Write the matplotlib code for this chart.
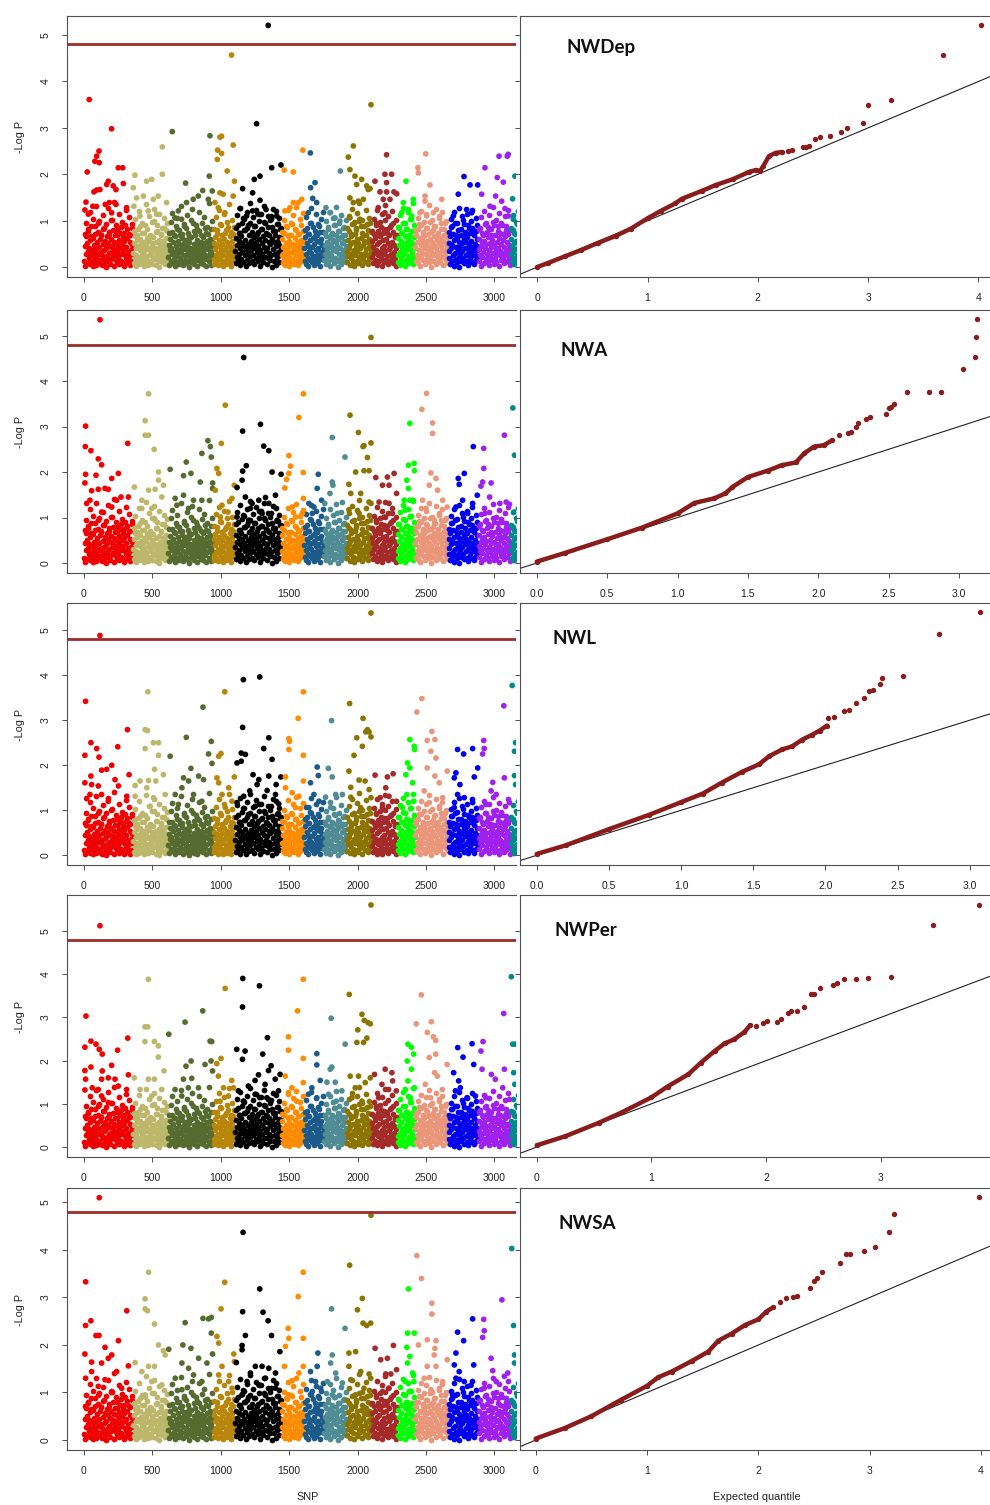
import numpy as np
import matplotlib
matplotlib.use("Agg")
import matplotlib.pyplot as plt

# ---------------- data ----------------
TRAITS = ["NWDep", "NWA", "NWL", "NWPer", "NWSA"]
THRESHOLD = 4.8

# chromosome blocks (SNP index where each block starts) and colours
CHR_STARTS = [0, 358, 616, 945, 1104, 1445, 1608, 1754, 1920, 2103, 2290, 2420, 2663, 2882, 3118]
CHR_END = 3176
CHR_COLORS = ["#f00000", "#bdb76b", "#556b2f", "#b8860b", "#000000", "#ff8c00", "#1c5a8a",
              "#4f8c94", "#8b7500", "#a52a2a", "#00ff00", "#e9967a", "#0000ee", "#a020f0", "#008b8b"]

# dense low -log P band of each block (values in hundredths)
BULK_1 = [12, 45, 3, 67, 28, 51, 9, 34, 78, 19, 42, 6, 58, 25, 88, 14, 37, 2, 63, 31,
          47, 11, 72, 22, 5, 39, 55, 17, 94, 29, 8, 44, 61, 15, 33, 70, 4, 26, 49, 83,
          20, 36, 10, 57, 41, 1, 66, 24, 13, 52, 30, 76, 7, 46, 18, 60, 35, 102, 23, 43,
          3, 54, 27, 68, 16, 38, 9, 80, 32, 48, 21, 59, 6, 40, 74, 14, 29, 50, 11, 65,
          37, 2, 56, 26, 91, 19, 44, 8, 62, 33, 15, 71, 24, 4, 53, 36, 12, 47, 85, 28]
BULK_2 = [31, 8, 52, 19, 66, 40, 3, 27, 58, 14, 45, 82, 22, 6, 37, 61, 11, 49, 29, 73,
          17, 43, 2, 55, 34, 90, 24, 9, 48, 63, 15, 38, 5, 57, 26, 70, 41, 13, 30, 51,
          7, 46, 21, 64, 35, 99, 18, 42, 4, 54, 28, 77, 12, 39, 59, 23, 1, 47, 33, 68,
          16, 44, 10, 56, 25, 85, 36, 6, 50, 20, 62, 32, 14, 43, 27]
BULK_3 = [22, 47, 5, 36, 60, 13, 41, 28, 75, 9, 53, 17, 32, 66, 2, 45, 24, 81, 38, 11,
          57, 30, 7, 49, 19, 70, 35, 14, 44, 62, 4, 27, 52, 89, 16, 39, 8, 58, 25, 46,
          12, 73, 33, 1, 55, 21, 42, 64, 10, 37, 29, 95, 18, 50, 6, 43, 26, 68, 15, 34,
          59, 3, 48, 23, 78, 40, 13, 31, 54, 9, 45, 20, 65, 36, 7, 51, 28, 84, 17, 41,
          2, 57, 24, 71, 38, 12, 47, 30, 61, 5, 33, 19, 53, 26, 44]
BULK_4 = [18, 52, 7, 39, 64, 25, 12, 47, 80, 31, 4, 58, 21, 43, 93, 15, 35, 69, 9, 50,
          27, 2, 61, 37, 14, 74, 44, 23, 55, 6, 33, 86, 19, 48, 11, 66, 29, 40, 3, 57,
          24, 71, 36, 16, 46, 30]
BULK_5 = [35, 8, 62, 21, 47, 90, 14, 56, 29, 73, 4, 41, 67, 18, 52, 33, 106, 11, 45, 79,
          26, 59, 2, 38, 84, 16, 50, 31, 69, 9, 43, 95, 23, 57, 36, 12, 76, 48, 27, 64,
          6, 40, 88, 19, 54, 32, 71, 13, 46, 115, 24, 60, 3, 37, 81, 17, 51, 29, 66, 10,
          44, 98, 22, 58, 34, 74, 7, 42, 86, 20, 55, 30, 68, 15, 49, 109, 25, 61, 1, 39,
          78, 14, 53, 28, 70, 5, 45, 92, 21, 57, 33, 65, 11, 47, 83, 26, 62, 38]
BULK_6 = [27, 61, 9, 44, 18, 73, 35, 5, 52, 23, 86, 14, 40, 66, 30, 2, 57, 20, 47, 11,
          69, 33, 92, 16, 50, 7, 38, 63, 25, 80, 12, 45, 28, 55, 4, 36, 71, 19, 48, 10,
          59, 31, 15, 42, 77, 24, 53]
BULK_7 = [40, 13, 65, 28, 7, 52, 84, 20, 46, 3, 71, 35, 16, 58, 30, 95, 11, 43, 62, 24,
          5, 49, 78, 18, 37, 9, 56, 27, 68, 14, 41, 88, 22, 54, 2, 33, 60, 17, 47, 75,
          26, 38]
BULK_8 = [15, 48, 29, 67, 6, 39, 55, 22, 81, 11, 44, 31, 62, 3, 50, 26, 73, 17, 36, 58,
          9, 42, 90, 20, 53, 34, 69, 13, 46, 1, 60, 28, 77, 18, 40, 64, 7, 51, 24, 85,
          32, 14, 57, 37, 70, 21, 45, 10]
BULK_9 = [33, 10, 58, 24, 77, 41, 5, 49, 19, 66, 30, 92, 14, 53, 37, 2, 71, 27, 45, 84,
          12, 60, 35, 8, 51, 22, 99, 40, 16, 63, 29, 74, 4, 47, 20, 56, 88, 31, 11, 68,
          38, 25, 54, 7, 79, 43, 17, 61, 28, 95, 36, 48]
BULK_10 = [21, 56, 8, 43, 71, 30, 15, 62, 37, 94, 4, 49, 25, 78, 12, 53, 33, 66, 19, 86,
           40, 2, 58, 28, 74, 10, 46, 35, 101, 17, 60, 24, 82, 6, 51, 39, 68, 14, 44, 29,
           90, 22, 55, 9, 76, 32, 48, 18, 64, 3, 41, 27, 70]
BULK_11 = [26, 63, 11, 48, 85, 32, 5, 57, 20, 74, 39, 14, 96, 45, 28, 67, 2, 52, 36, 81,
           17, 60, 9, 43, 70, 24, 104, 38, 13, 55, 31, 78, 7, 50, 22, 65, 41]
BULK_12 = [44, 12, 69, 27, 53, 8, 81, 36, 19, 62, 3, 47, 91, 24, 58, 31, 75, 15, 40, 66,
           6, 50, 28, 85, 17, 56, 34, 72, 10, 45, 98, 22, 60, 38, 1, 54, 30, 79, 14, 48,
           67, 25, 89, 41, 7, 59, 33, 74, 18, 52, 106, 29, 63, 11, 46, 83, 37, 21, 57, 4,
           70, 35, 94, 26, 49, 16, 65, 42, 9, 55]
BULK_13 = [19, 52, 34, 7, 66, 41, 87, 13, 48, 25, 72, 3, 58, 30, 95, 17, 44, 62, 10, 37,
           80, 22, 55, 1, 46, 28, 69, 14, 51, 35, 102, 20, 60, 8, 42, 76, 26, 53, 12, 65,
           31, 90, 5, 47, 39, 73, 18, 57, 24, 84, 11, 43, 33, 68, 6, 50, 27, 78, 15, 45,
           36, 61, 21]
BULK_14 = [38, 14, 61, 27, 85, 46, 3, 53, 22, 70, 33, 9, 57, 41, 93, 18, 49, 29, 76, 12,
           64, 36, 5, 51, 24, 82, 43, 16, 59, 31, 98, 7, 47, 20, 68, 39, 11, 55, 28, 88,
           42, 2, 62, 25, 73, 35, 15, 50, 30, 90, 19, 58, 44, 8, 66, 26, 79, 37, 13, 54,
           32, 71, 21, 48, 4, 40]
BULK_15 = [28, 61, 12, 45, 80, 33, 6, 52, 20, 71, 39, 15, 57, 25, 93, 42, 9]
BULK = [BULK_1, BULK_2, BULK_3, BULK_4, BULK_5, BULK_6, BULK_7, BULK_8, BULK_9, BULK_10,
        BULK_11, BULK_12, BULK_13, BULK_14, BULK_15]

# scattered middle band (about 0.7 - 1.4) of each block, in hundredths
MID_1 = [72, 95, 81, 118, 66, 104, 88, 131, 75, 99, 69, 112, 84, 93, 127, 71, 101, 79, 140, 90,
         68, 115, 86, 97, 74, 123, 82, 108, 70, 92]
MID_2 = [78, 103, 69, 121, 88, 94, 73, 135, 82, 110, 67, 98, 126, 76, 91, 114, 71, 85, 105, 80, 96]
MID_3 = [74, 98, 117, 68, 89, 106, 79, 132, 71, 93, 84, 112, 66, 101, 125, 77, 90, 83, 119, 70,
         96, 108, 73, 87, 138, 81, 99]
MID_4 = [82, 107, 71, 124, 90, 68, 115, 79, 98, 136, 75, 102, 86]
MID_5 = [85, 112, 73, 128, 96, 104, 79, 118, 91, 137, 70, 108, 88, 123, 76, 99, 115, 82, 131, 94,
         72, 110, 101, 87, 126, 78, 120, 93, 106, 84]
MID_6 = [76, 101, 88, 122, 69, 95, 113, 81, 130, 72, 104, 90, 117]
MID_7 = [80, 108, 71, 96, 127, 86, 67, 114, 92, 75, 103, 119]
MID_8 = [73, 99, 86, 118, 68, 105, 91, 130, 78, 95, 112, 70, 87, 101]
MID_9 = [84, 110, 72, 126, 95, 79, 117, 139, 88, 101, 69, 122, 92, 106, 76]
MID_10 = [77, 104, 91, 124, 70, 98, 115, 83, 134, 73, 109, 87, 120, 95, 68, 102]
MID_11 = [86, 112, 74, 128, 95, 81, 119, 70, 104, 137, 90]
MID_12 = [79, 106, 92, 121, 71, 98, 115, 84, 133, 75, 102, 88, 126, 69, 110, 94, 118, 82, 100, 73]
MID_13 = [75, 103, 88, 119, 70, 96, 128, 81, 109, 92, 67, 114, 85, 99, 124, 78, 106, 90]
MID_14 = [82, 107, 73, 120, 94, 86, 113, 69, 130, 90, 101, 77, 117, 96, 71, 109, 88, 124, 80]
MID_15 = [84, 112, 73, 98, 121]
MID = [MID_1, MID_2, MID_3, MID_4, MID_5, MID_6, MID_7, MID_8, MID_9, MID_10,
       MID_11, MID_12, MID_13, MID_14, MID_15]

# elevated SNPs per trait: (SNP index, -log P)
PEAKS_NWDEP = [
    (39, 3.61), (24, 2.05), (15, 1.40), (110, 2.50), (93, 2.39), (80, 2.28), (112, 2.25), (202, 2.98),
    (251, 2.14), (283, 2.14), (178, 1.85), (166, 1.78), (93, 1.66), (117, 1.67), (73, 1.62), (214, 1.75),
    (234, 1.67), (288, 1.80), (7, 1.23), (65, 1.31), (156, 1.35), (185, 1.39), (234, 1.35), (312, 1.28),
    (32, 1.14), (202, 1.17),
    (373, 1.98), (361, 1.71), (458, 1.85), (495, 1.89), (573, 2.00), (573, 2.59), (385, 1.49), (434, 1.53),
    (507, 1.46), (543, 1.53), (604, 1.39), (365, 1.31), (470, 1.21), (409, 1.10), (531, 1.14),
    (646, 2.92), (743, 1.81), (750, 1.39), (799, 1.46), (836, 1.53), (868, 1.65), (690, 1.21), (665, 1.06),
    (714, 1.03), (909, 1.46), (916, 1.96), (921, 2.83), (938, 1.64),
    (1079, 4.57), (1091, 2.63), (994, 2.80), (1006, 2.82), (977, 2.52), (1006, 2.45), (975, 2.32),
    (1047, 2.07), (1100, 1.85), (994, 1.60), (1018, 1.57), (957, 1.39), (982, 1.28), (1030, 1.17), (1091, 1.53),
    (1347, 5.21), (1262, 3.09), (1245, 1.89), (1287, 1.96), (1160, 1.69), (1233, 1.60), (1372, 2.14),
    (1440, 2.20), (1287, 1.44), (1141, 1.26), (1233, 1.21), (1331, 1.24), (1272, 1.14), (1409, 1.10),
    (1189, 1.10), (1372, 1.03),
    (1600, 2.52), (1464, 2.09), (1530, 2.05), (1469, 1.21), (1506, 1.28), (1530, 1.39), (1567, 1.39), (1592, 1.46),
    (1655, 2.46), (1689, 1.82), (1657, 1.71), (1672, 1.48), (1640, 1.17), (1701, 1.39),
    (1874, 2.07), (1769, 1.28), (1798, 1.17), (1835, 1.06), (1871, 0.99),
    (2098, 3.50), (1969, 2.61), (1932, 2.37), (1944, 2.10), (1981, 1.96), (2030, 1.89), (1993, 1.78),
    (2066, 1.75), (1944, 1.49), (1969, 1.39), (2005, 1.42), (2042, 1.46), (2078, 1.67), (2091, 1.69),
    (1944, 1.06), (2017, 1.03), (1981, 0.96),
    (2212, 2.42), (2127, 1.85), (2200, 2.00), (2249, 2.00), (2212, 1.82), (2164, 1.62), (2212, 1.62),
    (2266, 1.62), (2286, 1.58), (2188, 1.46), (2151, 1.28), (2237, 1.46), (2200, 1.17),
    (2354, 1.85), (2334, 1.39), (2407, 1.46), (2371, 1.24), (2322, 1.17), (2395, 1.10),
    (2498, 2.44), (2441, 2.14), (2444, 2.03), (2529, 1.77), (2493, 1.53), (2493, 1.42), (2615, 1.46),
    (2456, 1.17), (2554, 1.17), (2505, 1.10),
    (2778, 1.95), (2736, 1.57), (2822, 1.77), (2878, 1.77), (2700, 1.10), (2797, 1.24), (2834, 1.17),
    (2931, 2.14), (3034, 2.39), (3094, 2.39), (3101, 2.43), (3021, 1.93), (3065, 1.83), (2907, 1.57),
    (3009, 1.53), (3053, 1.42), (2968, 1.31), (3077, 1.26), (3101, 1.10),
    (3150, 1.96), (3133, 1.47), (3138, 1.03)]

PEAKS_NWA = [
    (117, 5.35), (12, 3.01), (10, 2.56), (51, 2.47), (105, 2.29), (129, 2.16), (12, 1.95), (88, 1.93),
    (203, 1.86), (252, 1.97), (320, 2.63), (7, 1.76), (56, 1.59), (105, 1.62), (154, 1.64), (178, 1.62),
    (44, 1.38), (239, 1.38), (271, 1.45), (325, 1.45), (20, 1.31), (203, 1.23), (129, 1.12),
    (472, 3.72), (447, 3.13), (447, 2.81), (472, 2.81), (513, 2.50), (545, 2.00), (369, 1.67), (472, 1.60),
    (520, 1.62), (545, 1.82), (581, 1.71), (569, 1.45), (423, 1.38), (496, 1.20), (423, 1.20), (520, 0.94),
    (630, 2.06), (748, 2.22), (728, 1.92), (782, 1.97), (850, 1.78), (862, 2.41), (906, 2.69), (924, 2.56),
    (931, 2.33), (941, 1.76), (940, 1.64), (728, 1.49), (801, 1.38), (667, 1.42), (862, 1.38), (679, 1.27),
    (765, 1.20),
    (1033, 3.47), (1004, 2.63), (972, 2.08), (985, 1.97), (960, 1.60), (1099, 1.71), (1082, 1.42),
    (1009, 1.27), (1053, 1.12), (997, 1.01),
    (1168, 4.52), (1160, 2.90), (1290, 3.05), (1314, 2.57), (1351, 2.47), (1187, 2.14), (1160, 2.02),
    (1156, 1.82), (1375, 2.00), (1441, 1.95), (1119, 1.66), (1180, 1.45), (1400, 1.49), (1327, 1.44),
    (1278, 1.38), (1229, 1.31), (1217, 1.20), (1119, 1.01), (1351, 1.31), (1302, 1.09), (1205, 0.94),
    (1412, 0.94),
    (1604, 3.72), (1571, 3.20), (1498, 2.36), (1510, 2.13), (1498, 1.97), (1481, 1.84), (1468, 1.65),
    (1603, 1.99), (1604, 1.42), (1522, 1.23), (1547, 1.01), (1596, 1.09),
    (1713, 1.95), (1705, 1.64), (1644, 1.31), (1681, 1.23), (1737, 1.38), (1669, 1.09),
    (1815, 2.76), (1908, 2.33), (1815, 1.78), (1820, 1.71), (1798, 1.53), (1889, 1.33), (1760, 1.31),
    (1852, 1.09),
    (2098, 4.96), (1945, 3.25), (2006, 2.87), (2047, 2.58), (2040, 2.56), (2072, 2.32), (2098, 2.64),
    (1986, 2.00), (2047, 2.03), (2084, 2.03), (1937, 1.73), (1950, 1.53), (2023, 1.53), (2084, 1.34),
    (2098, 1.31), (1937, 1.17), (2011, 1.09),
    (2133, 1.88), (2182, 1.71), (2218, 1.89), (2267, 1.97), (2230, 1.71), (2285, 1.53), (2157, 1.34),
    (2230, 1.31), (2255, 1.09), (2194, 1.01),
    (2382, 3.07), (2372, 2.15), (2414, 2.19), (2416, 2.03), (2360, 1.82), (2372, 1.64), (2341, 1.38),
    (2382, 1.38), (2405, 1.38), (2348, 1.16), (2385, 1.01),
    (2504, 3.73), (2470, 3.38), (2548, 3.08), (2548, 2.85), (2536, 1.98), (2573, 1.86), (2524, 1.71),
    (2585, 1.60), (2475, 1.38), (2500, 1.20), (2622, 1.38), (2655, 1.23), (2560, 0.94),
    (2846, 2.56), (2780, 1.97), (2736, 1.86), (2743, 1.73), (2768, 1.38), (2719, 1.23), (2841, 1.31),
    (2805, 1.09), (2875, 1.49),
    (2922, 2.52), (2922, 2.08), (2902, 1.69), (2914, 1.78), (2976, 1.76), (3073, 2.81), (3110, 1.29),
    (3086, 1.34), (2965, 1.45), (3040, 1.31), (2931, 1.09),
    (3135, 3.41), (3147, 2.37), (3147, 1.12)]

PEAKS_NWL = [
    (117, 4.88), (12, 3.42), (318, 2.79), (51, 2.50), (93, 2.37), (110, 2.18), (7, 2.22), (247, 2.41),
    (129, 1.89), (166, 1.91), (203, 2.00), (51, 1.76), (330, 1.79), (7, 1.61), (56, 1.57), (105, 1.54),
    (227, 1.68), (252, 1.54), (44, 1.35), (129, 1.35), (313, 1.31), (178, 1.20), (20, 1.26),
    (467, 3.63), (447, 2.79), (464, 2.77), (447, 2.37), (508, 2.50), (545, 2.50), (545, 2.22), (516, 1.91),
    (581, 1.79), (410, 1.65), (472, 1.66), (525, 1.65), (374, 1.55), (459, 1.50), (374, 1.31), (508, 1.28),
    (594, 1.35), (484, 1.09),
    (630, 2.20), (748, 2.62), (782, 1.93), (728, 1.72), (765, 1.65), (838, 1.76), (874, 1.68), (870, 3.29),
    (931, 2.53), (911, 2.25), (936, 2.04), (667, 1.35), (716, 1.50), (801, 1.35), (862, 1.20), (691, 1.13),
    (1029, 3.63), (1002, 2.26), (985, 2.20), (972, 1.72), (985, 1.61), (1099, 1.74), (1058, 1.50),
    (1009, 1.35), (1082, 1.20), (1033, 1.06),
    (1165, 3.90), (1285, 3.96), (1160, 2.84), (1150, 2.27), (1180, 2.24), (1150, 2.09), (1119, 2.05),
    (1351, 2.61), (1314, 2.37), (1375, 2.13), (1236, 1.79), (1278, 1.68), (1266, 1.57), (1351, 1.76),
    (1439, 1.74), (1405, 1.57), (1339, 1.44), (1212, 1.43), (1168, 1.31), (1400, 1.35), (1119, 1.17),
    (1253, 1.09), (1424, 1.14),
    (1604, 3.63), (1566, 3.04), (1498, 2.59), (1503, 2.53), (1498, 2.35), (1604, 2.22), (1473, 1.74),
    (1473, 1.50), (1604, 1.65), (1522, 1.39), (1571, 1.31), (1547, 1.06),
    (1705, 1.96), (1713, 1.77), (1656, 1.61), (1681, 1.35), (1718, 1.20), (1644, 1.06),
    (1810, 2.99), (1786, 1.93), (1815, 1.74), (1840, 1.35), (1766, 1.29), (1889, 1.35), (1803, 1.06),
    (2098, 5.38), (1942, 3.37), (2040, 3.04), (1994, 2.61), (2035, 2.42), (1974, 2.22), (2060, 2.74),
    (2084, 2.74), (2072, 2.79), (2098, 2.63), (1937, 1.87), (1950, 1.51), (2011, 1.67), (2055, 1.65),
    (2084, 1.46), (2098, 1.28), (1950, 1.29), (2023, 1.06),
    (2128, 1.78), (2218, 1.74), (2260, 1.81), (2206, 1.50), (2165, 1.28), (2230, 1.31), (2285, 1.20),
    (2182, 1.06),
    (2382, 2.57), (2414, 2.42), (2416, 2.35), (2365, 2.05), (2382, 1.94), (2353, 1.79), (2402, 1.61),
    (2360, 1.35), (2410, 1.20), (2328, 1.06),
    (2470, 3.48), (2433, 3.18), (2509, 2.55), (2543, 2.75), (2565, 2.57), (2573, 2.16), (2536, 2.31),
    (2509, 1.94), (2565, 1.76), (2597, 1.61), (2487, 1.43), (2655, 1.87), (2622, 1.28), (2524, 1.17),
    (2731, 2.35), (2775, 2.25), (2841, 2.37), (2853, 1.74), (2878, 1.94), (2719, 1.83), (2707, 1.72),
    (2748, 1.57), (2731, 1.35), (2780, 1.28), (2841, 1.17), (2707, 1.06),
    (2922, 2.55), (2914, 2.25), (2926, 2.37), (3069, 3.32), (3073, 1.72), (2988, 1.62), (2976, 1.43),
    (3013, 1.35), (3110, 1.17), (2938, 1.13),
    (3130, 3.77), (3147, 2.31), (3155, 2.50), (3147, 1.77), (3155, 1.57)]

PEAKS_NWPER = [
    (117, 5.12), (15, 3.03), (51, 2.45), (88, 2.38), (112, 2.26), (134, 2.15), (7, 2.31), (246, 2.24),
    (320, 2.52), (202, 1.89), (134, 1.76), (51, 1.85), (325, 1.67), (7, 1.77), (12, 1.57), (129, 1.57),
    (178, 1.60), (227, 1.57), (251, 1.41), (61, 1.37), (105, 1.33), (312, 1.33), (7, 1.32), (129, 1.18),
    (178, 1.03),
    (471, 3.88), (446, 2.78), (466, 2.78), (446, 2.44), (515, 2.44), (544, 2.34), (544, 2.08), (585, 1.76),
    (368, 1.60), (471, 1.57), (515, 1.57), (410, 1.33), (568, 1.33), (495, 1.18),
    (620, 2.61), (739, 2.89), (783, 1.99), (746, 1.87), (727, 1.57), (788, 1.59), (868, 3.15), (922, 2.45),
    (934, 2.44), (929, 1.99), (885, 1.91), (940, 1.76), (666, 1.33), (763, 1.37), (837, 1.37), (715, 1.18),
    (1032, 3.67), (1002, 2.05), (971, 1.93), (983, 1.64), (1080, 1.54), (1020, 1.37), (1093, 1.37),
    (1056, 1.18), (995, 1.06),
    (1161, 3.90), (1159, 3.24), (1283, 3.73), (1178, 2.22), (1159, 2.03), (1117, 2.26), (1341, 2.53),
    (1307, 2.15), (1368, 1.88), (1434, 1.68), (1349, 1.77), (1276, 1.67), (1251, 1.54), (1398, 1.57),
    (1202, 1.41), (1324, 1.45), (1129, 1.30), (1251, 1.22), (1422, 1.30), (1337, 1.14), (1166, 1.06),
    (1603, 3.88), (1561, 3.15), (1495, 2.55), (1495, 2.24), (1603, 2.05), (1471, 1.64), (1603, 1.49),
    (1520, 1.37), (1495, 1.26), (1556, 1.06),
    (1702, 2.16), (1702, 1.90), (1727, 1.54), (1666, 1.37), (1641, 1.22), (1702, 1.14),
    (1807, 2.98), (1812, 1.85), (1800, 1.80), (1837, 1.50), (1776, 1.50), (1885, 1.30), (1788, 1.22),
    (1844, 1.06), (1910, 2.38),
    (2098, 5.60), (1939, 3.53), (2032, 3.07), (2049, 2.93), (2076, 2.88), (2093, 2.85), (2002, 2.71),
    (2044, 2.42), (1995, 2.42), (2068, 2.52), (1946, 1.64), (2007, 1.64), (2056, 1.49), (2093, 1.60),
    (1983, 1.37), (1959, 1.14), (2032, 1.06),
    (2202, 1.80), (2251, 1.72), (2124, 1.68), (2178, 1.45), (2227, 1.33), (2256, 1.53), (2283, 1.30),
    (2154, 1.14),
    (2368, 2.38), (2393, 2.31), (2410, 2.15), (2363, 1.99), (2393, 1.80), (2368, 1.53), (2349, 1.33),
    (2415, 1.37), (2385, 1.14),
    (2466, 3.52), (2429, 2.85), (2510, 2.65), (2539, 2.90), (2554, 2.55), (2571, 2.47), (2524, 2.07),
    (2571, 2.15), (2563, 1.72), (2583, 1.64), (2495, 1.45), (2655, 1.91), (2620, 1.33), (2534, 1.14),
    (2732, 2.30), (2771, 2.08), (2837, 2.39), (2849, 1.91), (2702, 1.72), (2739, 1.53), (2751, 1.37),
    (2715, 1.30), (2800, 1.14), (2861, 1.18),
    (2917, 2.44), (2902, 2.22), (2910, 1.80), (2978, 1.68), (3007, 1.57), (3073, 1.80), (3068, 3.09),
    (2939, 1.14), (3061, 1.37), (3110, 1.10),
    (3124, 3.94), (3134, 2.38), (3154, 2.38), (3141, 1.72), (3149, 1.45)]

PEAKS_NWSA = [
    (112, 5.10), (12, 3.33), (12, 2.41), (51, 2.51), (88, 2.20), (110, 2.20), (154, 1.95), (252, 2.09),
    (313, 2.72), (203, 1.79), (7, 1.81), (56, 1.64), (129, 1.62), (178, 1.72), (239, 1.44), (56, 1.44),
    (154, 1.27), (325, 1.56), (12, 1.30), (105, 1.13), (276, 1.09), (203, 1.02),
    (472, 3.53), (447, 2.97), (447, 2.76), (464, 2.72), (516, 2.44), (545, 2.00), (581, 1.88), (374, 1.63),
    (472, 1.55), (516, 1.55), (594, 1.79), (423, 1.44), (496, 1.23), (569, 1.16), (447, 0.95),
    (620, 1.91), (740, 2.47), (723, 2.00), (782, 1.93), (716, 1.62), (765, 1.51), (838, 1.72), (870, 2.56),
    (911, 2.55), (931, 2.58), (931, 2.25), (940, 1.81), (899, 1.62), (667, 1.30), (801, 1.37), (862, 1.23),
    (716, 1.06),
    (1029, 3.32), (1002, 2.76), (972, 2.18), (985, 2.04), (1009, 1.55), (1095, 1.81), (1100, 1.65),
    (1058, 1.23), (985, 1.37), (1082, 1.09),
    (1163, 4.37), (1160, 2.70), (1285, 3.18), (1309, 2.69), (1346, 2.51), (1371, 2.20), (1180, 2.20),
    (1156, 1.99), (1156, 1.90), (1432, 1.86), (1114, 1.63), (1253, 1.55), (1302, 1.55), (1351, 1.51),
    (1400, 1.41), (1217, 1.41), (1327, 1.30), (1192, 1.23), (1278, 1.16), (1400, 1.09), (1156, 0.95),
    (1603, 3.53), (1566, 3.02), (1603, 2.14), (1493, 2.35), (1498, 2.14), (1473, 1.97), (1466, 1.55),
    (1603, 1.55), (1522, 1.25), (1571, 1.41), (1498, 0.95),
    (1710, 1.83), (1705, 1.55), (1656, 1.44), (1693, 1.23), (1730, 1.09), (1669, 1.02),
    (1810, 2.76), (1815, 1.79), (1803, 1.62), (1908, 2.35), (1840, 1.41), (1779, 1.23), (1889, 1.20),
    (1815, 0.95),
    (2098, 4.73), (1942, 3.68), (1999, 2.74), (2035, 2.98), (2040, 2.46), (2067, 2.41), (2096, 2.46),
    (1937, 1.83), (1937, 1.55), (1986, 1.86), (2023, 1.44), (2084, 1.39), (2096, 1.30), (1950, 1.27),
    (2047, 1.09), (1986, 0.95),
    (2128, 1.93), (2169, 1.69), (2218, 1.72), (2262, 1.99), (2206, 1.39), (2243, 1.39), (2285, 1.48),
    (2230, 1.09), (2182, 1.02),
    (2372, 3.18), (2365, 2.25), (2415, 2.25), (2360, 1.95), (2382, 1.76), (2365, 1.62), (2402, 1.41),
    (2350, 1.23), (2412, 1.23), (2377, 1.02),
    (2433, 3.88), (2467, 3.40), (2543, 2.88), (2543, 2.65), (2509, 2.11), (2573, 2.09), (2445, 2.00),
    (2565, 1.93), (2560, 1.79), (2509, 1.55), (2573, 1.55), (2655, 1.69), (2487, 1.30), (2622, 1.23),
    (2536, 1.06),
    (2731, 2.27), (2775, 2.09), (2841, 2.55), (2849, 1.58), (2719, 1.83), (2707, 1.58), (2743, 1.44),
    (2719, 1.30), (2780, 1.23), (2829, 1.15), (2694, 0.95),
    (2922, 2.54), (2926, 2.30), (2914, 2.16), (2976, 1.72), (2988, 1.46), (3055, 2.95), (3073, 1.34),
    (3098, 1.41), (2926, 1.09), (3013, 1.23), (3110, 1.02),
    (3127, 4.03), (3140, 2.41), (3147, 1.79), (3147, 1.62)]

PEAKS = [PEAKS_NWDEP, PEAKS_NWA, PEAKS_NWL, PEAKS_NWPER, PEAKS_NWSA]

# QQ plots: (expected, observed); dense part of the curve and sparse upper tail
QQ_DENSE_NWDEP = [(0, 0), (0.10, 0.09), (0.25, 0.23), (0.40, 0.37), (0.55, 0.52), (0.71, 0.67), (0.85, 0.83),
                  (1.00, 1.05), (1.12, 1.21), (1.25, 1.37), (1.31, 1.47), (1.49, 1.64), (1.62, 1.77),
                  (1.77, 1.89), (1.92, 2.05), (1.98, 2.09), (2.02, 2.07), (2.05, 2.18), (2.10, 2.39),
                  (2.16, 2.46), (2.22, 2.48)]
QQ_TAIL_NWDEP = [(2.27, 2.51), (2.31, 2.52), (2.41, 2.59), (2.44, 2.58), (2.46, 2.61), (2.52, 2.77),
                 (2.56, 2.81), (2.65, 2.82), (2.75, 2.91), (2.81, 3.00), (2.95, 3.10), (3.00, 3.50),
                 (3.21, 3.61), (3.68, 4.57), (4.02, 5.21)]
QQ_DENSE_NWA = [(0, 0.03), (0.20, 0.22), (0.50, 0.52), (0.75, 0.78), (1.00, 1.09), (1.12, 1.32),
                (1.26, 1.42), (1.34, 1.53), (1.39, 1.67), (1.50, 1.89), (1.64, 2.03), (1.74, 2.15),
                (1.84, 2.21), (1.90, 2.41), (1.97, 2.56), (2.04, 2.59), (2.10, 2.70)]
QQ_TAIL_NWA = [(2.15, 2.81), (2.21, 2.85), (2.23, 2.87), (2.27, 3.00), (2.28, 3.08), (2.34, 3.16),
               (2.37, 3.20), (2.48, 3.27), (2.50, 3.40), (2.52, 3.44), (2.54, 3.49), (2.63, 3.75),
               (2.79, 3.75), (2.87, 3.75), (3.03, 4.27), (3.11, 4.54), (3.12, 4.96), (3.13, 5.36)]
QQ_DENSE_NWL = [(0, 0.03), (0.20, 0.22), (0.50, 0.58), (0.78, 0.90), (1.00, 1.18), (1.15, 1.37),
                (1.28, 1.61), (1.42, 1.85), (1.54, 2.02), (1.61, 2.20), (1.70, 2.35), (1.77, 2.42),
                (1.84, 2.57), (1.91, 2.68), (1.96, 2.77), (2.01, 2.88)]
QQ_TAIL_NWL = [(2.02, 3.04), (2.06, 3.07), (2.13, 3.21), (2.16, 3.23), (2.21, 3.38), (2.27, 3.49),
               (2.30, 3.64), (2.33, 3.68), (2.38, 3.80), (2.39, 3.94), (2.54, 3.99), (2.79, 4.91), (3.07, 5.40)]
QQ_DENSE_NWPER = [(0, 0.04), (0.25, 0.25), (0.54, 0.56), (0.74, 0.80), (1.00, 1.15), (1.14, 1.40),
                  (1.32, 1.68), (1.43, 1.95), (1.55, 2.22), (1.64, 2.40), (1.72, 2.49), (1.81, 2.66),
                  (1.86, 2.82)]
QQ_TAIL_NWPER = [(1.91, 2.80), (1.97, 2.88), (2.01, 2.92), (2.09, 2.89), (2.13, 2.96), (2.19, 3.11),
                 (2.22, 3.15), (2.27, 3.15), (2.33, 3.25), (2.39, 3.53), (2.42, 3.55), (2.47, 3.69),
                 (2.58, 3.74), (2.62, 3.79), (2.68, 3.88), (2.78, 3.88), (2.89, 3.92), (3.09, 3.94),
                 (3.45, 5.13), (3.85, 5.60)]
QQ_DENSE_NWSA = [(0, 0.03), (0.26, 0.25), (0.50, 0.50), (0.77, 0.85), (1.00, 1.14), (1.10, 1.32),
                 (1.22, 1.44), (1.40, 1.66), (1.55, 1.86), (1.64, 2.09), (1.76, 2.24), (1.88, 2.42),
                 (2.00, 2.54), (2.07, 2.70), (2.13, 2.79)]
QQ_TAIL_NWSA = [(2.19, 2.90), (2.25, 2.98), (2.31, 3.00), (2.35, 3.03), (2.46, 3.19), (2.50, 3.35),
                (2.53, 3.42), (2.57, 3.54), (2.73, 3.72), (2.79, 3.91), (2.82, 3.91), (2.95, 3.98),
                (3.05, 4.07), (3.17, 4.38), (3.22, 4.75), (3.98, 5.12)]
QQ_DENSE = [QQ_DENSE_NWDEP, QQ_DENSE_NWA, QQ_DENSE_NWL, QQ_DENSE_NWPER, QQ_DENSE_NWSA]
QQ_TAIL = [QQ_TAIL_NWDEP, QQ_TAIL_NWA, QQ_TAIL_NWL, QQ_TAIL_NWPER, QQ_TAIL_NWSA]

QQ_TICKS = [[0, 1, 2, 3, 4], [0, 0.5, 1, 1.5, 2, 2.5, 3], [0, 0.5, 1, 1.5, 2, 2.5, 3], [0, 1, 2, 3], [0, 1, 2, 3, 4]]
QQ_TICKLABELS = [["0", "1", "2", "3", "4"], ["0.0", "0.5", "1.0", "1.5", "2.0", "2.5", "3.0"],
                 ["0.0", "0.5", "1.0", "1.5", "2.0", "2.5", "3.0"], ["0", "1", "2", "3"], ["0", "1", "2", "3", "4"]]
SNP_TICKS = [0, 500, 1000, 1500, 2000, 2500, 3000]

# ---------------- layout ----------------
W, H = 990, 1505
ROW_TOP = [15.7, 310.0, 603.3, 895.3, 1188.0]
ROW_BOT = [276.7, 572.7, 865.0, 1156.7, 1449.7]
MAN_X = (66.7, 516.0)
QQ_X = (520.0, 990.0)
QQ_XLIM = [(-0.157, 4.105), (-0.119, 3.22), (-0.116, 3.14), (-0.146, 3.95), (-0.141, 4.08)]
MAN_XLIM = (-126, 3158)
LABEL_POS = [(566.7, 47.7), (560.0, 350.7), (552.7, 638.3), (554.3, 930.3), (559.0, 1223.7)]

QQ_COLOR = "#8b1c1c"
LINE_COLOR = "#9b2c2c"
SPINE = "#505050"
TICKFONT = "Liberation Sans"

fig = plt.figure(figsize=(W / 100, H / 100), dpi=100)


def frac(x0, x1, top, bot):
    return [x0 / W, 1 - bot / H, (x1 - x0) / W, (bot - top) / H]


def style(ax):
    for s in ["top", "left", "bottom"]:
        ax.spines[s].set_color(SPINE)
        ax.spines[s].set_linewidth(0.8)
    ax.spines["right"].set_visible(False)
    ax.tick_params(direction="out", length=3.6, width=0.7, color=SPINE, labelsize=7.5,
                   pad=8.0, labelcolor="#222222")
    for lab in ax.get_xticklabels() + ax.get_yticklabels():
        lab.set_fontfamily(TICKFONT)


def chrom_of(snp):
    return np.searchsorted(CHR_STARTS, snp, side="right") - 1


ENDS = CHR_STARTS[1:] + [CHR_END]

for r in range(5):
    top, bot = ROW_TOP[r], ROW_BOT[r]
    peaks = PEAKS[r]
    psnp = np.array([p[0] for p in peaks], dtype=float)
    plog = np.array([p[1] for p in peaks], dtype=float)
    ymax = plog.max()
    ylim = (-0.04 * ymax, 1.04 * ymax)

    # ---- Manhattan ----
    ax = fig.add_axes(frac(MAN_X[0], MAN_X[1], top, bot))
    for k in range(len(CHR_STARTS)):
        v = np.array(BULK[k]) / 100.0
        xs = np.linspace(CHR_STARTS[k] + 2, ENDS[k] - 2, len(v))
        ax.scatter(xs, v, s=17, color=CHR_COLORS[k], linewidths=0, zorder=2)
        m = np.array(MID[k]) / 100.0
        xm = np.linspace(CHR_STARTS[k] + 6, ENDS[k] - 6, len(m))
        ax.scatter(xm, m, s=17, color=CHR_COLORS[k], linewidths=0, zorder=2)
    cols = [CHR_COLORS[c] for c in chrom_of(psnp)]
    ax.scatter(psnp, plog, s=17, c=cols, linewidths=0, zorder=3)
    ax.axhline(THRESHOLD, color=LINE_COLOR, lw=2.0, zorder=4)
    ax.set_xlim(*MAN_XLIM)
    ax.set_ylim(*ylim)
    ax.set_xticks(SNP_TICKS)
    ax.set_xticklabels([str(t) for t in SNP_TICKS])
    ax.set_yticks([0, 1, 2, 3, 4, 5])
    ax.set_yticklabels(["0", "1", "2", "3", "4", "5"], rotation=90, va="center")
    style(ax)
    fig.text(20 / W, 1 - ((top + bot) / 2 - 9) / H, "-Log P", rotation=90, ha="center", va="center",
             fontsize=7.8, family=TICKFONT, color="#222222")

    # ---- QQ ----
    qa = fig.add_axes(frac(QQ_X[0], QQ_X[1], top, bot))
    dx = np.array([p[0] for p in QQ_DENSE[r]])
    dy = np.array([p[1] for p in QQ_DENSE[r]])
    tx = np.array([p[0] for p in QQ_TAIL[r]])
    ty = np.array([p[1] for p in QQ_TAIL[r]])
    qa.axline((0, 0), slope=1, color="#222222", lw=0.8, zorder=1)
    qa.plot(dx, dy, color=QQ_COLOR, lw=3.2, solid_capstyle="round", solid_joinstyle="round", zorder=2)
    qa.scatter(dx, dy, s=15, color=QQ_COLOR, linewidths=0, zorder=3)
    qa.scatter(tx, ty, s=15, color=QQ_COLOR, linewidths=0, zorder=3)
    qa.set_xlim(*QQ_XLIM[r])
    qa.set_ylim(*ylim)
    qa.set_xticks(QQ_TICKS[r])
    qa.set_xticklabels(QQ_TICKLABELS[r])
    qa.set_yticks([0, 1, 2, 3, 4, 5])
    qa.set_yticklabels([])
    style(qa)
    lx, ly = LABEL_POS[r]
    fig.text(lx / W, 1 - ly / H, TRAITS[r], ha="left", va="center", fontsize=13.5,
             fontweight="bold", family=["Lato", "DejaVu Sans"], color="#111111")

fig.text(308 / W, 1 - 1497 / H, "SNP", ha="center", va="center", fontsize=7.8, family=TICKFONT, color="#222222")
fig.text(757 / W, 1 - 1497 / H, "Expected quantile", ha="center", va="center", fontsize=7.8,
         family=TICKFONT, color="#222222")

fig.savefig("out.png", dpi=100, facecolor="white")
